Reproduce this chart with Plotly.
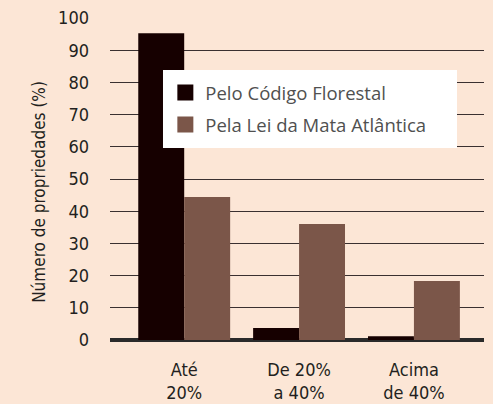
import plotly.graph_objects as go

categories = ["Até<br>20%", "De 20%<br>a 40%", "Acima<br>de 40%"]
codigo_florestal = [95.3, 3.7, 1.2]
lei_mata_atlantica = [44.4, 36.0, 18.3]
series_names = ["Pelo Código Florestal", "Pela Lei da Mata Atlântica"]
series_colors = ["#160000", "#7B5649"]
y_ticks = [0, 10, 20, 30, 40, 50, 60, 70, 80, 90, 100]
y_title = "Número de propriedades (%)"

FONT = "DejaVu Sans Condensed, Liberation Sans Narrow, Roboto, sans-serif"
BG = "#FCE6D6"

fig = go.Figure()
for vals, name, col in zip([codigo_florestal, lei_mata_atlantica], series_names, series_colors):
    fig.add_trace(go.Bar(x=[0, 1, 2], y=vals, name=name, showlegend=False,
                         marker=dict(color=col, line=dict(width=0))))
for name, col in zip(series_names, series_colors):
    fig.add_trace(go.Scatter(x=[None], y=[None], mode="markers", name=name,
                             legendgroup=name,
                             marker=dict(symbol="square", size=16, color=col)))

fig.update_layout(
    width=493, height=404,
    margin=dict(l=110, r=9, t=18, b=64),
    paper_bgcolor=BG, plot_bgcolor=BG,
    barmode="group", bargap=0.2, bargroupgap=0,
    font=dict(family=FONT, size=18, color="#231F20"),
    legend=dict(x=0.148, y=0.826, xanchor="left", yanchor="top",
                bgcolor="rgba(0,0,0,0)", borderwidth=0,
                font=dict(family="Open Sans, sans-serif", size=18.5, color="#505050"),
                itemsizing="trace", tracegroupgap=5),
    showlegend=True,
    shapes=[dict(type="rect", xref="paper", yref="paper",
                 x0=0.1417, x1=0.9278, y0=0.596, y1=0.8385,
                 fillcolor="white", line=dict(width=0), layer="above")],
    annotations=[dict(text=y_title, xref="paper", yref="paper", x=-0.19, y=0.46,
                      textangle=-90, showarrow=False, xanchor="center", yanchor="middle",
                      font=dict(family=FONT, size=17, color="#231F20"))],
)
fig.update_xaxes(
    range=[-0.646, 2.61], tickvals=[0, 1, 2], ticktext=categories,
    showgrid=False, zeroline=False, showline=False, ticks="", automargin=False,
    ticklabelstandoff=17,
    tickfont=dict(family=FONT, size=18, color="#231F20"),
)
fig.update_yaxes(
    range=[0, 100], tickvals=y_ticks, showgrid=True, gridcolor="#3a3030", gridwidth=1,
    zeroline=True, zerolinecolor="#2a2a2a", zerolinewidth=4,
    showline=False, ticks="", ticklabelstandoff=20, automargin=False,
    tickfont=dict(family=FONT, size=18, color="#231F20"),
)
fig.write_html("out.html", config={"displayModeBar": False},
               post_script="document.body.style.margin='0px';document.body.style.background='%s';" % BG)
